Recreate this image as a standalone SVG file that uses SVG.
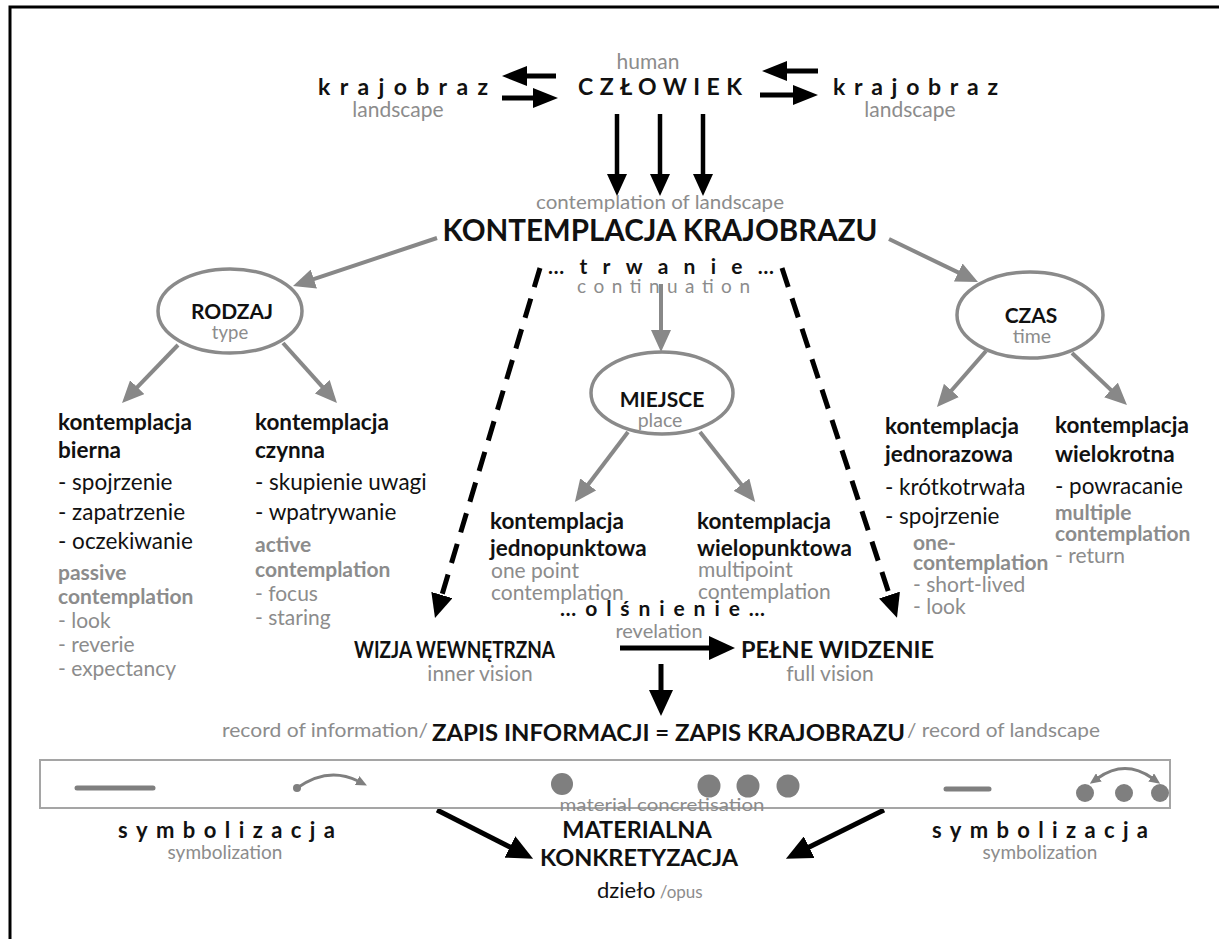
<svg xmlns="http://www.w3.org/2000/svg" width="1219" height="939" viewBox="0 0 1219 939">
<defs>
<style>
text{font-family:Lato,"Open Sans","Liberation Sans",sans-serif;}
.bk{fill:#111;font-weight:700;}
.nk{fill:#111;font-weight:400;}
.g{fill:#8c8c8c;font-weight:400;}
.gb{fill:#8c8c8c;font-weight:700;}
.mid{text-anchor:middle;}
.c1{font-size:22.5px;}
.c2{font-size:21px;}
.ga{stroke:#888;stroke-width:4;fill:none;marker-end:url(#mg);}
.ba{stroke:#000;stroke-width:4.5;fill:none;marker-end:url(#mb);}
.bt{stroke:#000;stroke-width:5;fill:none;marker-end:url(#mbt);}
.bl{stroke:#000;stroke-width:5;fill:none;marker-end:url(#mbl);}
.da{stroke:#000;stroke-width:5;fill:none;stroke-dasharray:20 12;marker-end:url(#md);}
.ell{fill:#fff;stroke:#8a8a8a;stroke-width:3.5;}
.sym{stroke:#7f7f7f;stroke-width:5;stroke-linecap:round;fill:none;}
.dot{fill:#7f7f7f;}
</style>
<marker id="mg" markerUnits="userSpaceOnUse" markerWidth="22" markerHeight="20" refX="1" refY="10" orient="auto"><path d="M0,0 L22,10 L0,20 z" fill="#888"/></marker>
<marker id="mb" markerUnits="userSpaceOnUse" markerWidth="22" markerHeight="20" refX="1" refY="10" orient="auto"><path d="M0,0 L22,10 L0,20 z" fill="#000"/></marker>
<marker id="md" markerUnits="userSpaceOnUse" markerWidth="24" markerHeight="22" refX="1" refY="11" orient="auto"><path d="M0,0 L24,11 L0,22 z" fill="#000"/></marker>
<marker id="mbt" markerUnits="userSpaceOnUse" markerWidth="25" markerHeight="20" refX="1" refY="10" orient="auto"><path d="M0,0 L25,10 L0,20 z" fill="#000"/></marker>
<marker id="mbl" markerUnits="userSpaceOnUse" markerWidth="26" markerHeight="24" refX="1" refY="12" orient="auto"><path d="M0,0 L26,12 L0,24 z" fill="#000"/></marker>
<marker id="ms" markerUnits="userSpaceOnUse" markerWidth="11" markerHeight="10" refX="1" refY="5" orient="auto-start-reverse"><path d="M0,0 L11,5 L0,10 z" fill="#7f7f7f"/></marker>
</defs>
<rect width="1219" height="939" fill="#fff"/>
<path d="M10,939 V7 H1219" fill="none" stroke="#000" stroke-width="3"/>

<g id="connectors">
<line class="bt" x1="556" y1="76" x2="526" y2="76"/>
<line class="bt" x1="502" y1="98" x2="534" y2="98"/>
<line class="bt" x1="818" y1="71" x2="786" y2="71"/>
<line class="bt" x1="760" y1="95" x2="794" y2="95"/>
<line class="ba" x1="617" y1="114" x2="617" y2="175"/>
<line class="ba" x1="660" y1="114" x2="660" y2="175"/>
<line class="ba" x1="703" y1="114" x2="703" y2="175"/>
<line class="ga" x1="437" y1="238" x2="312.9" y2="279.4"/>
<line class="ga" x1="178" y1="345" x2="136.6" y2="387.9"/>
<line class="ga" x1="283" y1="343" x2="322.9" y2="387.4"/>
<line class="ga" x1="889" y1="239" x2="959.1" y2="272.9"/>
<line class="ga" x1="986" y1="351" x2="950.8" y2="391.2"/>
<line class="ga" x1="1072" y1="353" x2="1111.7" y2="390.6"/>
<line class="ga" x1="661" y1="284" x2="661" y2="331"/>
<line class="ga" x1="628" y1="432" x2="587.6" y2="485.2"/>
<line class="ga" x1="700" y1="432" x2="742.1" y2="485.4"/>
<line class="da" x1="540" y1="268" x2="441.6" y2="596"/>
<line class="da" x1="782" y1="268" x2="889.8" y2="596"/>
<line class="bl" x1="620" y1="648" x2="710" y2="648"/>
<line class="bl" x1="661" y1="664" x2="661" y2="691"/>
<line class="bl" x1="437" y1="810" x2="510.8" y2="847.4"/>
<line class="bl" x1="884" y1="810" x2="808.3" y2="847.6"/>
</g>

<g id="n-krajobraz-left">
<text class="bk" x="318" y="95" font-size="23" textLength="170" lengthAdjust="spacing">krajobraz</text>
<text class="g mid" x="398" y="117" font-size="21">landscape</text>
</g>
<g id="n-czlowiek">
<text class="g mid" x="648" y="69" font-size="21">human</text>
<text class="bk" x="578" y="95" font-size="23" textLength="164" lengthAdjust="spacing">CZŁOWIEK</text>
</g>
<g id="n-krajobraz-right">
<text class="bk" x="833" y="95" font-size="23" textLength="165" lengthAdjust="spacing">krajobraz</text>
<text class="g mid" x="910" y="117" font-size="21">landscape</text>
</g>
<g id="n-kontemplacja">
<text class="g mid" x="660" y="209" font-size="20" textLength="248" lengthAdjust="spacingAndGlyphs">contemplation of landscape</text>
<text class="bk mid" x="660" y="241" font-size="30" textLength="435" lengthAdjust="spacingAndGlyphs">KONTEMPLACJA KRAJOBRAZU</text>
</g>
<g id="n-trwanie">
<text class="bk" x="548" y="274" font-size="21" textLength="226" lengthAdjust="spacing">…trwanie…</text>
<text class="g" x="577" y="293" font-size="19" textLength="173" lengthAdjust="spacing">continuation</text>
</g>
<g id="n-rodzaj">
<ellipse class="ell" cx="230" cy="311" rx="72" ry="42"/>
<text class="bk mid" x="232" y="319" font-size="21">RODZAJ</text>
<text class="g mid" x="230" y="339" font-size="18.5">type</text>
</g>
<g id="n-czas">
<ellipse class="ell" cx="1030" cy="315" rx="73" ry="43"/>
<text class="bk mid" x="1031" y="323" font-size="21">CZAS</text>
<text class="g mid" x="1032" y="343" font-size="19.5">time</text>
</g>
<g id="n-miejsce">
<ellipse class="ell" cx="662" cy="393" rx="71" ry="41"/>
<text class="bk mid" x="662" y="407" font-size="21">MIEJSCE</text>
<text class="g mid" x="660" y="427" font-size="19.5">place</text>
</g>
<g id="n-bierna">
<text class="bk c1" x="58" y="430">kontemplacja</text>
<text class="bk c1" x="58" y="458">bierna</text>
<text class="nk c1" x="58" y="490">- spojrzenie</text>
<text class="nk c1" x="58" y="520">- zapatrzenie</text>
<text class="nk c1" x="58" y="549">- oczekiwanie</text>
<text class="gb c2" x="58" y="580">passive</text>
<text class="gb c2" x="58" y="604">contemplation</text>
<text class="g c2" x="58" y="628">- look</text>
<text class="g c2" x="58" y="652">- reverie</text>
<text class="g c2" x="58" y="676">- expectancy</text>
</g>
<g id="n-czynna">
<text class="bk c1" x="255" y="430">kontemplacja</text>
<text class="bk c1" x="255" y="458">czynna</text>
<text class="nk c1" x="255" y="490">- skupienie uwagi</text>
<text class="nk c1" x="255" y="520">- wpatrywanie</text>
<text class="gb c2" x="255" y="552">active</text>
<text class="gb c2" x="255" y="577">contemplation</text>
<text class="g c2" x="255" y="601">- focus</text>
<text class="g c2" x="255" y="625">- staring</text>
</g>
<g id="n-jednopunktowa">
<text class="bk c1" x="490" y="529">kontemplacja</text>
<text class="bk c1" x="490" y="556">jednopunktowa</text>
<text class="g c2" x="491" y="578">one point</text>
<text class="g c2" x="491" y="600">contemplation</text>
</g>
<g id="n-wielopunktowa">
<text class="bk c1" x="697" y="529">kontemplacja</text>
<text class="bk c1" x="697" y="556">wielopunktowa</text>
<text class="g c2" x="698" y="577">multipoint</text>
<text class="g c2" x="698" y="599">contemplation</text>
</g>
<g id="n-jednorazowa">
<text class="bk c1" x="885" y="434">kontemplacja</text>
<text class="bk c1" x="885" y="462">jednorazowa</text>
<text class="nk c1" x="885" y="495">- krótkotrwała</text>
<text class="nk c1" x="885" y="524">- spojrzenie</text>
<text class="gb c2" x="913" y="550">one-</text>
<text class="gb c2" x="913" y="570">contemplation</text>
<text class="g c2" x="913" y="592">- short-lived</text>
<text class="g c2" x="913" y="614">- look</text>
</g>
<g id="n-wielokrotna">
<text class="bk c1" x="1055" y="433">kontemplacja</text>
<text class="bk c1" x="1055" y="462">wielokrotna</text>
<text class="nk c1" x="1055" y="494">- powracanie</text>
<text class="gb c2" x="1055" y="520">multiple</text>
<text class="gb c2" x="1055" y="541">contemplation</text>
<text class="g c2" x="1055" y="563">- return</text>
</g>
<g id="n-olsnienie">
<text class="bk" x="560" y="616" font-size="21" textLength="205" lengthAdjust="spacing">…olśnienie…</text>
<text class="g mid" x="659" y="638" font-size="20">revelation</text>
</g>
<g id="n-wizja">
<text class="bk" x="354" y="658" font-size="23" textLength="201" lengthAdjust="spacingAndGlyphs">WIZJA WEWNĘTRZNA</text>
<text class="g mid" x="480" y="681" font-size="21">inner vision</text>
</g>
<g id="n-pelne">
<text class="bk" x="741" y="658" font-size="23" textLength="193" lengthAdjust="spacingAndGlyphs">PEŁNE WIDZENIE</text>
<text class="g mid" x="830" y="681" font-size="21">full vision</text>
</g>
<g id="n-zapis">
<text class="g" x="222" y="737" font-size="20" textLength="206" lengthAdjust="spacingAndGlyphs">record of information/</text>
<text class="bk" x="432" y="741" font-size="23" textLength="473" lengthAdjust="spacingAndGlyphs">ZAPIS INFORMACJI = ZAPIS KRAJOBRAZU</text>
<text class="g" x="907" y="737" font-size="20" textLength="193" lengthAdjust="spacingAndGlyphs">/ record of landscape</text>
</g>
<g id="n-strip">
<rect x="40" y="760" width="1130" height="48" fill="none" stroke="#a5a5a5" stroke-width="2"/>
<line class="sym" x1="77" y1="788" x2="153" y2="788"/>
<circle class="dot" cx="297" cy="788" r="4"/>
<path d="M297,788 Q328,766 358,781" stroke="#7f7f7f" stroke-width="3" fill="none" marker-end="url(#ms)"/>
<circle class="dot" cx="562" cy="784" r="11"/>
<circle class="dot" cx="709" cy="786" r="11.5"/>
<circle class="dot" cx="748" cy="786" r="11.5"/>
<circle class="dot" cx="788" cy="786" r="11.5"/>
<line class="sym" x1="946" y1="789" x2="989" y2="789"/>
<circle class="dot" cx="1085" cy="793" r="9"/>
<circle class="dot" cx="1124" cy="793" r="9"/>
<circle class="dot" cx="1160" cy="793" r="9"/>
<path d="M1098,778 Q1125,759 1152,778" stroke="#7f7f7f" stroke-width="3" fill="none" marker-start="url(#ms)" marker-end="url(#ms)"/>
<text class="g mid" x="662" y="811" font-size="18" textLength="205" lengthAdjust="spacingAndGlyphs">material concretisation</text>
</g>
<g id="n-symbolizacja-left">
<text class="bk" x="118" y="838" font-size="22" textLength="217" lengthAdjust="spacing">symbolizacja</text>
<text class="g mid" x="225" y="859" font-size="19">symbolization</text>
</g>
<g id="n-materialna">
<text class="bk mid" x="637" y="838" font-size="23.5">MATERIALNA</text>
<text class="bk mid" x="639" y="866" font-size="23.5">KONKRETYZACJA</text>
<text x="597" y="898"><tspan class="nk" font-size="22">dzieło</tspan><tspan class="g" font-size="17"> /opus</tspan></text>
</g>
<g id="n-symbolizacja-right">
<text class="bk" x="932" y="838" font-size="22" textLength="216" lengthAdjust="spacing">symbolizacja</text>
<text class="g mid" x="1040" y="859" font-size="19">symbolization</text>
</g>
</svg>
